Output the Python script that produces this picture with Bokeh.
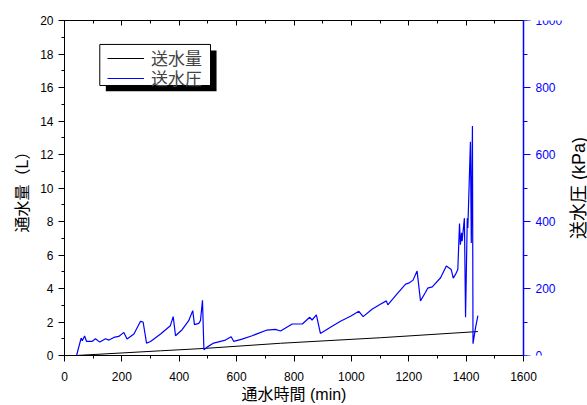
import math
from bokeh.plotting import figure
from bokeh.models import (Range1d, LinearAxis, Legend, LegendItem, BoxAnnotation,
                          SingleIntervalTicker, FixedTicker)
from bokeh.embed import file_html
from bokeh.resources import INLINE

# ---- data ----
time_pressure = [30, 42, 58, 62, 70, 77, 96, 108, 123, 143, 155, 172, 189, 207, 218, 242,
                 265, 274, 286, 300, 335, 369, 379, 387, 410, 433, 447, 453, 468, 474,
                 481, 486, 497, 520, 561, 581, 590, 619, 654, 706, 735, 753, 794, 829,
                 855, 863, 878, 892, 927, 962, 997, 1026, 1041, 1072, 1101, 1122, 1127,
                 1160, 1189, 1200, 1215, 1229, 1241, 1258, 1266, 1282, 1311, 1331, 1348,
                 1355, 1363, 1371, 1377, 1380, 1384, 1386, 1394, 1398, 1404, 1406, 1415,
                 1418, 1422, 1424, 1433, 1441]
pressure_kpa = [0, 0, 52, 44, 58, 42, 42, 50, 40, 50, 46, 54, 57, 69, 49, 64,
                102, 100, 37, 42, 64, 89, 116, 59, 77, 104, 134, 92, 96, 104,
                165, 17, 25, 37, 46, 56, 42, 49, 59, 76, 78, 73, 94, 94,
                114, 106, 121, 66, 84, 102, 117, 132, 116, 138, 153, 163, 151,
                185, 213, 216, 225, 252, 163, 188, 201, 205, 232, 267, 257,
                231, 242, 257, 394, 331, 366, 341, 410, 114, 410, 381, 638,
                336, 685, 35, 84, 119]

time_volume = [40, 335, 486, 753, 1101, 1441]
volume_l = [0.0, 0.28, 0.42, 0.73, 1.06, 1.43]

series_labels = ["送水量", "送水圧"]
x_title = "通水時間 (min)"
y_title = "通水量（L）"
y2_title = "送水圧 (kPa)"

X_MAX = 1600
BLUE = "#0000FF"
CJK = "Noto Sans CJK JP"
TITLE_FONT = "'Liberation Sans', 'Noto Sans CJK JP'"
LAT = "Liberation Sans"

# the frame runs to the canvas edge; the axes are bounded at X_MAX and the
# pressure axis is pinned there, so its labels and title are not clipped
X_END = X_MAX * 523 / 459
p = figure(width=587, height=405, output_backend="svg", toolbar_location=None,
           x_range=Range1d(0, X_END), y_range=Range1d(0, 20),
           min_border_left=64, min_border_right=0, min_border_top=20, min_border_bottom=50,
           background_fill_color="white", border_fill_color="white")
p.extra_y_ranges = {"p": Range1d(0, 1000)}
p.grid.visible = False
p.outline_line_color = None

def style_axis(ax, color="black"):
    ax.axis_line_color = color
    ax.major_tick_line_color = color
    ax.minor_tick_line_color = color
    ax.major_label_text_color = color
    ax.major_label_text_font = LAT
    ax.major_label_text_font_size = "12px"
    ax.axis_label_text_font = TITLE_FONT
    ax.axis_label_text_font_size = "16px"
    ax.axis_label_text_font_style = "normal"
    ax.axis_label_text_color = "black"
    ax.major_tick_in = 0
    ax.minor_tick_in = 0
    ax.major_tick_out = 6
    ax.minor_tick_out = 3

xa = p.xaxis[0]
xa.ticker = SingleIntervalTicker(interval=200, num_minor_ticks=2)
xa.bounds = (0, X_MAX)
style_axis(xa)
# the axis title is centred on the whole frame; ideographic spaces move it
# back to the centre of the 0-1600 span
xa.axis_label = x_title + "\u3000" * 4
xa.major_label_standoff = 10
xa.axis_label_standoff = 2

ya = p.yaxis[0]
ya.ticker = SingleIntervalTicker(interval=2, num_minor_ticks=2)
style_axis(ya)
ya.axis_label = y_title
ya.axis_label_standoff = 6

ya2 = LinearAxis(y_range_name="p", ticker=SingleIntervalTicker(interval=200, num_minor_ticks=2),
                 fixed_location=X_MAX)
style_axis(ya2, BLUE)
ya2.axis_line_width = 1.5
ya2.major_tick_out = 7
ya2.minor_tick_out = 4
ya2.major_label_standoff = 5
p.add_layout(ya2, "right")

# title of the pressure axis: a label-only axis pinned at the right edge
rt = LinearAxis(y_range_name="p", ticker=FixedTicker(ticks=[]), fixed_location=1825,
                axis_label=y2_title)
rt.axis_line_alpha = 0
rt.major_tick_out = 0
rt.minor_tick_out = 0
rt.major_label_standoff = 0
rt.axis_label_standoff = 0
rt.axis_label_text_font = TITLE_FONT
rt.axis_label_text_font_size = "18px"
rt.axis_label_text_font_style = "normal"
rt.axis_label_text_color = "black"
p.add_layout(rt, "left")

top = LinearAxis(ticker=SingleIntervalTicker(interval=200, num_minor_ticks=2))
top.bounds = (0, X_MAX)
top.axis_line_color = "black"
top.major_tick_in = 5
top.major_tick_out = 0
top.minor_tick_in = 3
top.minor_tick_out = 0
top.major_label_overrides = {v: "" for v in range(0, X_MAX + 1, 200)}
top.major_label_standoff = 0
p.add_layout(top, "above")

r1 = p.line(time_volume, volume_l, line_color="black", line_width=1)
r2 = p.line(time_pressure, pressure_kpa, line_color=BLUE, line_width=1.2, y_range_name="p")

# legend frame with drop shadow
p.add_layout(BoxAnnotation(left=144, right=530, top=18.21, bottom=15.78,
                           fill_color="black", fill_alpha=1.0, line_alpha=0))
p.add_layout(BoxAnnotation(left=123, right=509, top=18.57, bottom=16.12,
                           fill_color="white", fill_alpha=1.0,
                           line_color="black", line_width=1, line_alpha=1.0))

def legend_row(label, renderer, y):
    return Legend(items=[LegendItem(label=label, renderers=[renderer])],
                  location=(43, y), margin=0, padding=0, spacing=0,
                  glyph_width=37, glyph_height=16, label_height=16, label_standoff=7,
                  label_text_font=CJK, label_text_font_size="17px",
                  border_line_alpha=0, background_fill_alpha=0)

p.add_layout(legend_row(series_labels[0], r1, 285), "center")
p.add_layout(legend_row(series_labels[1], r2, 265), "center")

open("out.html", "w").write(file_html(p, INLINE))
